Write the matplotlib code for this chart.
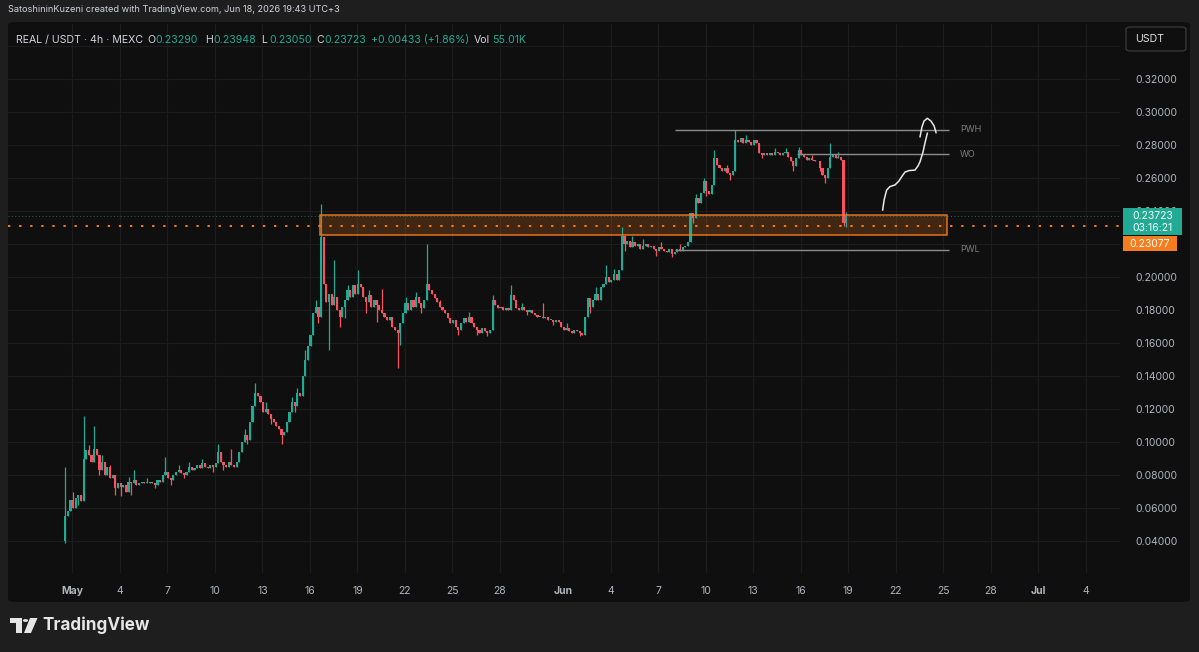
import numpy as np
import matplotlib.pyplot as plt
from matplotlib.patches import FancyBboxPatch, Rectangle, Polygon, Circle
from matplotlib.transforms import blended_transform_factory

plt.rcParams['font.family'] = ['Inter', 'DejaVu Sans']

W, H = 1199, 652

# 4h candles, first one opens Apr 30 11:00 (UTC+3); x is days since May 1 00:00
first_open = 0.040
closes = [
    0.055, 0.058, 0.065, 0.060, 0.066, 0.068, 0.064, 0.090, 0.095, 0.092,
    0.088, 0.096, 0.092, 0.083, 0.088, 0.080, 0.085, 0.078, 0.080, 0.072,
    0.075, 0.073, 0.074, 0.070, 0.076, 0.075, 0.077, 0.074, 0.075, 0.076,
    0.075, 0.075, 0.076, 0.075, 0.074, 0.077, 0.076, 0.080, 0.082, 0.078,
    0.077, 0.080, 0.082, 0.083, 0.081, 0.080, 0.082, 0.085, 0.083, 0.084,
    0.086, 0.084, 0.087, 0.085, 0.084, 0.086, 0.085, 0.087, 0.094, 0.088,
    0.086, 0.085, 0.088, 0.086, 0.085, 0.088, 0.094, 0.100, 0.104, 0.101,
    0.112, 0.122, 0.130, 0.128, 0.124, 0.118, 0.120, 0.117, 0.114, 0.112,
    0.110, 0.108, 0.104, 0.106, 0.112, 0.118, 0.124, 0.122, 0.130, 0.128,
    0.140, 0.150, 0.158, 0.165, 0.178, 0.182, 0.176, 0.224, 0.196, 0.185,
    0.190, 0.183, 0.188, 0.180, 0.176, 0.182, 0.186, 0.192, 0.188, 0.195,
    0.190, 0.196, 0.194, 0.188, 0.185, 0.189, 0.182, 0.186, 0.183, 0.180,
    0.178, 0.176, 0.174, 0.176, 0.170, 0.168, 0.166, 0.172, 0.178, 0.184,
    0.180, 0.186, 0.182, 0.188, 0.184, 0.181, 0.186, 0.196, 0.192, 0.190,
    0.187, 0.185, 0.182, 0.180, 0.178, 0.175, 0.172, 0.174, 0.170, 0.168,
    0.172, 0.175, 0.173, 0.176, 0.172, 0.170, 0.168, 0.166, 0.169, 0.167,
    0.166, 0.168, 0.186, 0.183, 0.181, 0.182, 0.180, 0.181, 0.180, 0.189,
    0.186, 0.181, 0.180, 0.182, 0.180, 0.179, 0.180, 0.178, 0.177, 0.176,
    0.176, 0.175, 0.176, 0.174, 0.174, 0.173, 0.174, 0.173, 0.170, 0.168,
    0.169, 0.167, 0.166, 0.168, 0.167, 0.166, 0.165, 0.176, 0.187, 0.182,
    0.186, 0.190, 0.186, 0.194, 0.196, 0.200, 0.197, 0.198, 0.202, 0.198,
    0.204, 0.225, 0.220, 0.222, 0.218, 0.221, 0.219, 0.220, 0.217, 0.219,
    0.220, 0.218, 0.219, 0.217, 0.216, 0.218, 0.217, 0.216, 0.215, 0.217,
    0.214, 0.215, 0.217, 0.216, 0.218, 0.219, 0.221, 0.239, 0.236, 0.248,
    0.245, 0.251, 0.258, 0.252, 0.250, 0.256, 0.272, 0.268, 0.266, 0.264,
    0.266, 0.263, 0.262, 0.264, 0.283, 0.282, 0.284, 0.281, 0.283, 0.282,
    0.280, 0.283, 0.281, 0.275, 0.274, 0.275, 0.274, 0.275, 0.274, 0.276,
    0.275, 0.274, 0.275, 0.276, 0.273, 0.270, 0.267, 0.272, 0.277, 0.274,
    0.273, 0.271, 0.272, 0.271, 0.270, 0.270, 0.266, 0.262, 0.260, 0.266,
    0.273, 0.274, 0.272, 0.273, 0.271, 0.2329, 0.23723,
]
wick_hi = {0: 0.085, 3: 0.070, 7: 0.116, 9: 0.098, 11: 0.110, 14: 0.092,
           17: 0.086, 24: 0.079, 26: 0.083, 31: 0.078, 38: 0.091, 43: 0.086,
           47: 0.088, 52: 0.090, 58: 0.099, 63: 0.096, 68: 0.108, 72: 0.136,
           76: 0.124, 86: 0.127, 88: 0.133, 91: 0.156, 95: 0.186, 97: 0.244,
           102: 0.210, 107: 0.195, 111: 0.204, 115: 0.192, 120: 0.193,
           129: 0.188, 133: 0.191, 137: 0.220, 142: 0.186, 153: 0.179,
           162: 0.189, 169: 0.195, 173: 0.184, 181: 0.184, 190: 0.172,
           201: 0.194, 205: 0.207, 208: 0.205, 211: 0.230, 215: 0.225,
           219: 0.223, 226: 0.221, 233: 0.220, 239: 0.250, 242: 0.260,
           246: 0.277, 251: 0.268, 254: 0.289, 258: 0.286, 263: 0.278,
           269: 0.278, 273: 0.278, 278: 0.279, 283: 0.274, 290: 0.281,
           293: 0.276, 296: 0.23948}
wick_lo = {0: 0.039, 5: 0.062, 13: 0.080, 19: 0.068, 21: 0.067, 25: 0.068,
           34: 0.072, 40: 0.074, 45: 0.078, 56: 0.082, 60: 0.083, 69: 0.099,
           78: 0.111, 82: 0.099, 87: 0.118, 96: 0.172, 100: 0.156, 104: 0.170,
           106: 0.175, 114: 0.178, 118: 0.173, 126: 0.145, 127: 0.159,
           135: 0.178, 149: 0.165, 156: 0.165, 160: 0.164, 175: 0.177,
           185: 0.171, 195: 0.164, 199: 0.178, 212: 0.216, 224: 0.213,
           230: 0.212, 238: 0.233, 243: 0.249, 252: 0.259, 264: 0.272,
           276: 0.264, 286: 0.264, 288: 0.257, 295: 0.2310, 296: 0.2305}

# annotation levels
pwh, wo, pwl = 0.2891, 0.2745, 0.2164
zone_lo, zone_hi = 0.2255, 0.2376
last_price, mark_price = 0.23723, 0.23077
# hand-drawn projection path (days, price)
path_x = [51.18, 51.27, 51.43, 51.64, 51.96, 52.21, 52.38, 52.59, 52.85,
          53.22, 53.41, 53.54, 53.73, 53.85, 54.00]
path_y = [0.2406, 0.2467, 0.2527, 0.2548, 0.2558, 0.2582, 0.2608, 0.2636,
          0.2645, 0.2648, 0.2673, 0.2699, 0.2758, 0.2812, 0.2871]
arc_x = [53.54, 53.66, 53.79, 54.00, 54.23, 54.43, 54.55]
arc_y = [0.2850, 0.2909, 0.2945, 0.2962, 0.2945, 0.2915, 0.2875]

date_ticks = [0, 3, 6, 9, 12, 15, 18, 21, 24, 27, 31, 34, 37, 40, 43, 46, 49,
              52, 55, 58, 61, 64]
date_labels = ['May', '4', '7', '10', '13', '16', '19', '22', '25', '28',
               'Jun', '4', '7', '10', '13', '16', '19', '22', '25', '28',
               'Jul', '4']
price_ticks = [0.04, 0.06, 0.08, 0.10, 0.12, 0.14, 0.16, 0.18, 0.20, 0.22,
               0.24, 0.26, 0.28, 0.30, 0.32, 0.34]
hidden_ticks = [0.22, 0.34]

GREEN = '#22ab94'
RED = '#f7525f'
ORANGE = '#f57c1f'
TXT = '#b2b5be'

c = np.array(closes)
o = np.concatenate([[first_open], c[:-1]])
hi = np.maximum(o, c)
lo = np.minimum(o, c)
for k, v in wick_hi.items():
    hi[k] = max(v, hi[k])
for k, v in wick_lo.items():
    lo[k] = min(v, lo[k])
x = -11 / 24 + np.arange(len(c)) / 6
cols = np.where(c >= o, GREEN, RED)

fig = plt.figure(figsize=(W / 100, H / 100), dpi=100, facecolor='#1e1e1e')
fig.patches.append(FancyBboxPatch((8 / W, 1 - 602 / H), 1182 / W, 580 / H,
                                  boxstyle='round,pad=0,rounding_size=0.005',
                                  transform=fig.transFigure, fc='#0f0f0f',
                                  ec='none', zorder=-10))

ax = fig.add_axes([8 / W, 1 - 573 / H, 1112 / W, 549 / H])
ax.set_facecolor('#0f0f0f')
ax.set_xlim(-4.07, 66.17)
ax.set_ylim(0.02061, 0.35333)
for s in ax.spines.values():
    s.set_visible(False)

ax.set_xticks(date_ticks)
ax.set_xticklabels(date_labels)
for lab in ax.get_xticklabels():
    if lab.get_text() in ('May', 'Jun', 'Jul'):
        lab.set_fontweight('bold')
        lab.set_color('#d1d4dc')
ax.yaxis.tick_right()
ax.set_yticks(price_ticks)
ax.set_yticklabels(['' if p in hidden_ticks else '%.5f' % p for p in price_ticks])
ax.tick_params(axis='both', length=0, colors=TXT, labelsize=7.5)
ax.tick_params(axis='x', pad=9)
ax.tick_params(axis='y', pad=11)
ax.grid(True, color='#1c1c1c', lw=0.9)
ax.set_axisbelow(True)

# candles
ax.vlines(x, lo, hi, colors=cols, lw=0.9, zorder=3)
ax.bar(x, np.maximum(np.abs(c - o), 0.0005), bottom=np.minimum(o, c),
       width=0.135, color=cols, lw=0, zorder=4)

# zone, levels, dotted price lines
ax.add_patch(Rectangle((15.66, zone_lo), 55.22 - 15.66, zone_hi - zone_lo,
                       fc=ORANGE, alpha=0.22, ec='none', zorder=2))
ax.add_patch(Rectangle((15.66, zone_lo), 55.22 - 15.66, zone_hi - zone_lo,
                       fc='none', ec=ORANGE, lw=1.1, alpha=0.9, zorder=5))
ax.axhline(mark_price, color=ORANGE, ls=(0, (1.2, 4.5)), lw=1.4, zorder=5)
ax.axhline(last_price, color=GREEN, ls=(0, (1, 2.5)), lw=0.7, alpha=0.6,
           zorder=5)
ax.hlines([pwh, pwl], 38.06, 55.37, color='#8c8c8c', lw=1, zorder=5)
ax.hlines(wo, 45.77, 55.37, color='#8c8c8c', lw=1, zorder=5)
for lvl, name in [(pwh, 'PWH'), (wo, 'WO'), (pwl, 'PWL')]:
    ax.text(56.06, lvl, name, color='#7c7c7c', fontsize=6.5, va='center')

ax.plot(path_x, path_y, color='#e8e8e8', lw=1.1, zorder=6)
ax.plot(arc_x, arc_y, color='#e8e8e8', lw=1.1, zorder=6)

# price tags on the right scale
tr = blended_transform_factory(ax.transAxes, ax.transData)
ax.add_patch(Rectangle((1.0027, 0.2255), 0.0531, 0.0164, transform=tr,
                       fc=GREEN, ec='none', clip_on=False, zorder=10))
ax.add_patch(Rectangle((1.0027, 0.2158), 0.0486, 0.0090, transform=tr,
                       fc=ORANGE, ec='none', clip_on=False, zorder=10))
ax.text(1.0292, last_price, '%.5f' % last_price, transform=tr, color='white',
        fontsize=7.5, ha='center', va='center', zorder=11, clip_on=False)
ax.text(1.0292, 0.2297, '03:16:21', transform=tr, color='white',
        fontsize=7.5, ha='center', va='center', zorder=11, clip_on=False)
ax.text(1.0270, 0.2203, '%.5f' % mark_price, transform=tr, color='white',
        fontsize=7.5, ha='center', va='center', zorder=11, clip_on=False)


def ftext(px, py, s, **kw):
    fig.text(px / W, 1 - py / H, s, va='center', **kw)


ftext(8, 10, 'SatoshininKuzeni created with TradingView.com, Jun 18, 2026 19:43 UTC+3',
      color='#d1d4dc', fontsize=6.6)
ftext(16, 40, 'REAL / USDT · 4h · MEXC', color='#d1d4dc', fontsize=7.6)
header = [(147, 'O', '0.23290'), (205, 'H', '0.23948'), (261, 'L', '0.23050'),
          (316, 'C', '0.23723')]
for px, k, v in header:
    ftext(px, 40, k, color='#d1d4dc', fontsize=7.6)
    ftext(px + 8, 40, v, color=GREEN, fontsize=7.6)
ftext(371, 40, '+0.00433 (+1.86%)', color=GREEN, fontsize=7.6)
ftext(474, 40, 'Vol', color='#d1d4dc', fontsize=7.6)
ftext(492, 40, '55.01K', color=GREEN, fontsize=7.6)

fig.patches.append(FancyBboxPatch((1126 / W, 1 - 51 / H), 60 / W, 24 / H,
                                  boxstyle='round,pad=0,rounding_size=0.004',
                                  transform=fig.transFigure, fc='#0f0f0f',
                                  ec='#363636', lw=1, zorder=1))
ftext(1135, 39, 'USDT', color='#e0e0e0', fontsize=7.6)

# TradingView logo
fig.patches.append(Polygon(np.array([[10, 618], [22, 618], [22, 633], [16, 633],
                                     [16, 623], [10, 623]]) / [W, H] * [1, -1] + [0, 1],
                           closed=True, transform=fig.transFigure, fc='#e6e6e6',
                           ec='none'))
fig.patches.append(Circle((25.5 / W, 1 - 620.5 / H), 2.6 / W,
                          transform=fig.transFigure, fc='#e6e6e6', ec='none'))
fig.patches.append(Polygon(np.array([[30, 618], [37.5, 618], [31, 633], [24, 633]])
                           / [W, H] * [1, -1] + [0, 1], closed=True,
                           transform=fig.transFigure, fc='#e6e6e6', ec='none'))
ftext(42, 625, 'TradingView', color='#e6e6e6', fontsize=12.3, fontweight='bold')

fig.savefig('out.png', dpi=100, facecolor=fig.get_facecolor())
